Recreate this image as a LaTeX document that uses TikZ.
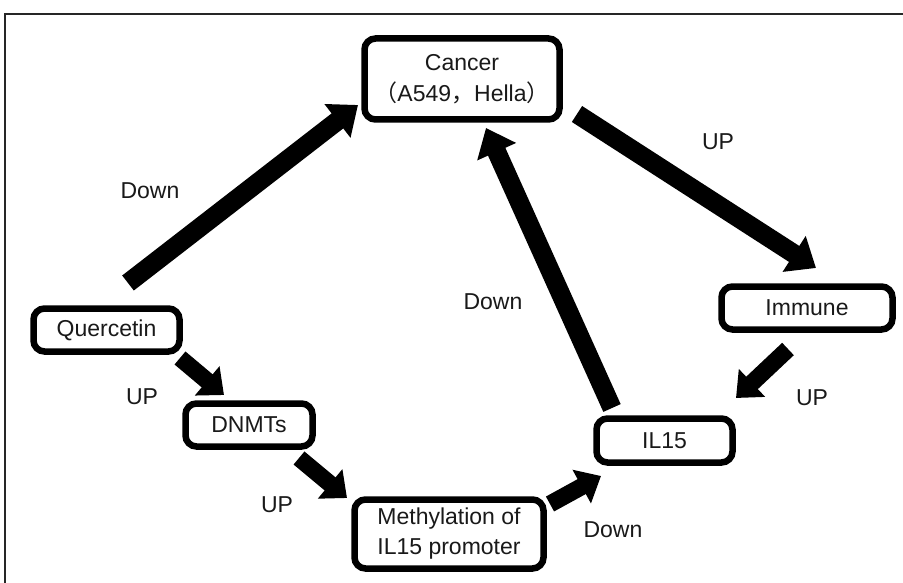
\documentclass[tikz,border=0pt]{standalone}
\usepackage{fontspec}
\setmainfont{Liberation Sans}
\newfontfamily\cjk{Noto Sans CJK SC}
\usetikzlibrary{arrows.meta}
\tikzset{
  box/.style={draw=black, line width=6.5pt, rounded corners=11pt, fill=white, inner sep=0pt, align=center, text=black!90, font=\fontsize{23}{31}\selectfont},
  lbl/.style={inner sep=0pt, text=black!90, font=\fontsize{23}{28}\selectfont},
  bigarrow/.style={line width=19pt, line cap=butt, -{Triangle[width=41pt,length=26pt]}},
  smallarrow/.style={line width=17pt, line cap=butt, -{Triangle[width=37pt,length=22pt]}},
  frame/.style={line width=1.4pt, draw=black!85}
}
\begin{document}
\begin{tikzpicture}[x=1pt,y=-1pt]
\useasboundingbox (0,0) rectangle (903,583);
\fill[white] (0,0) rectangle (903,583);
% frame
\coordinate (fl) at (5,583);
\coordinate (ftl) at (5,14);
\coordinate (ftr) at (903,14);
\draw[frame] (fl) -- (ftl) -- (ftr);
% nodes
\node[box, minimum width=195pt, minimum height=81pt] (can) at (462,79) {Cancer\\{\cjk（}A549{\cjk，}Hella{\cjk）}};
\node[box, minimum width=146pt, minimum height=43pt] (q) at (106.5,330) {Quercetin};
\node[box, minimum width=127pt, minimum height=43pt] (d) at (249,425) {DNMTs};
\node[box, minimum width=189pt, minimum height=69pt, font=\fontsize{23}{30}\selectfont] (m) at (449,534) {Methylation of\\IL15 promoter};
\node[box, minimum width=136pt, minimum height=44pt] (il) at (664.5,440.5) {IL15};
\node[box, minimum width=171pt, minimum height=43pt] (im) at (807,308) {Immune};
% arrow end coordinates
\coordinate (a1s) at (128,283);
\coordinate (a1e) at (358,105);
\coordinate (a2s) at (577,114);
\coordinate (a2e) at (816,268);
\coordinate (a3s) at (612,408);
\coordinate (a3e) at (486,128);
\coordinate (a4s) at (788,349);
\coordinate (a4e) at (736,398);
\coordinate (a5s) at (180,358);
\coordinate (a5e) at (224,395);
\coordinate (a6s) at (299,458);
\coordinate (a6e) at (347,498);
\coordinate (a7s) at (550,504);
\coordinate (a7e) at (601,476);
% arrows
\draw[bigarrow] (a1s) -- (a1e);
\draw[bigarrow] (a2s) -- (a2e);
\draw[bigarrow] (a3s) -- (a3e);
\draw[smallarrow] (a4s) -- (a4e);
\draw[smallarrow] (a5s) -- (a5e);
\draw[smallarrow] (a6s) -- (a6e);
\draw[smallarrow] (a7s) -- (a7e);
% labels
\node[lbl] (l1) at (150,191) {Down};
\node[lbl] (l2) at (718,142) {UP};
\node[lbl] (l3) at (493,302) {Down};
\node[lbl] (l4) at (812,398) {UP};
\node[lbl] (l5) at (142,397) {UP};
\node[lbl] (l6) at (277,505) {UP};
\node[lbl] (l7) at (613,530) {Down};
\end{tikzpicture}
\end{document}
